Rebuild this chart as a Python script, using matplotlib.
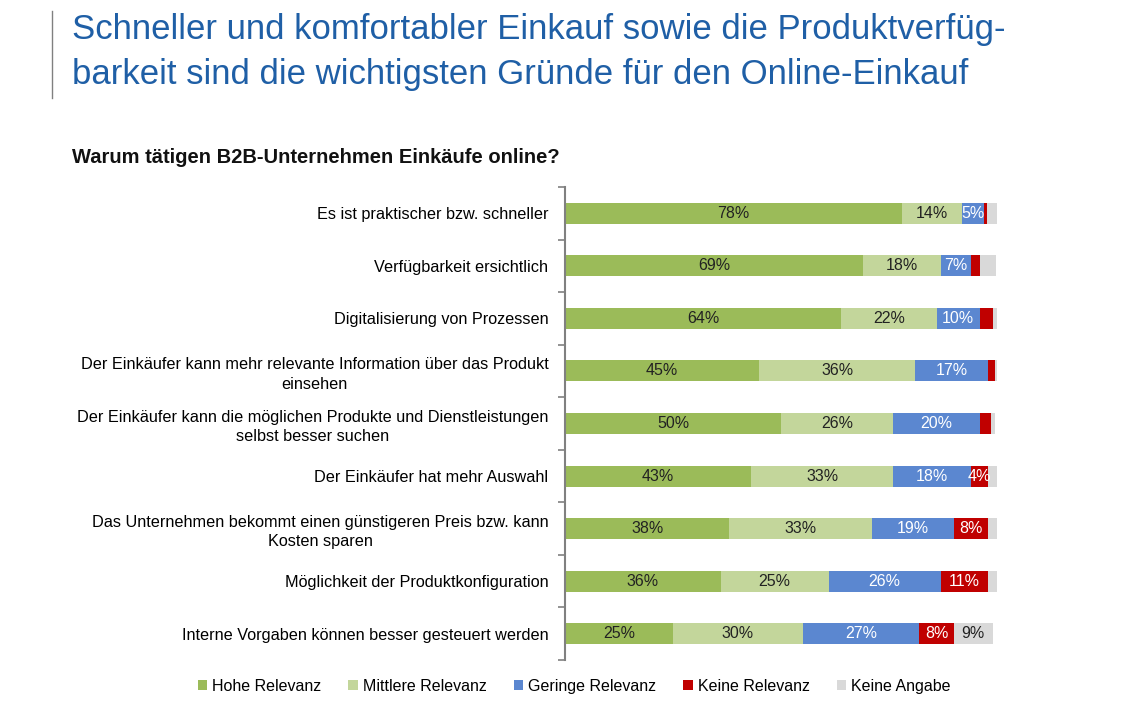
import matplotlib.pyplot as plt
import numpy as np
from matplotlib import font_manager

plt.rcParams['font.family'] = ['Liberation Sans', 'DejaVu Sans']

# Data (percent)
categories = [
    "Es ist praktischer bzw. schneller",
    "Verfügbarkeit ersichtlich",
    "Digitalisierung von Prozessen",
    "Der Einkäufer kann mehr relevante Information über das Produkt\neinsehen",
    "Der Einkäufer kann die möglichen Produkte und Dienstleistungen\nselbst besser suchen",
    "Der Einkäufer hat mehr Auswahl",
    "Das Unternehmen bekommt einen günstigeren Preis bzw. kann\nKosten sparen",
    "Möglichkeit der Produktkonfiguration",
    "Interne Vorgaben können besser gesteuert werden",
]
hohe = [78, 69, 64, 45, 50, 43, 38, 36, 25]
mittlere = [14, 18, 22, 36, 26, 33, 33, 25, 30]
geringe = [5, 7, 10, 17, 20, 18, 19, 26, 27]
keine = [0.7, 2, 3, 1.5, 2.5, 4, 8, 11, 8]
angabe = [2.3, 3.8, 1, 0.5, 1, 2, 2, 2, 9]

series_names = ["Hohe Relevanz", "Mittlere Relevanz", "Geringe Relevanz", "Keine Relevanz", "Keine Angabe"]
colors = ["#9BBB59", "#C3D69B", "#5B87D0", "#C00000", "#D9D9D9"]
label_colors = ["#222222", "#222222", "white", "white", "#222222"]

# check for a narrow font for the headline
names = {f.name for f in font_manager.fontManager.ttflist}
title_font = 'Liberation Sans Narrow' if 'Liberation Sans Narrow' in names else 'Liberation Sans'
title_size = 27 if title_font == 'Liberation Sans Narrow' else 25

fig = plt.figure(figsize=(11.3, 7.08), dpi=100)
ax = fig.add_axes([0.5, 0.0678, 0.3823, 0.668])

y = np.arange(len(categories))
left = np.zeros(len(categories))
for vals, name, col, lc in zip([hohe, mittlere, geringe, keine, angabe], series_names, colors, label_colors):
    vals = np.array(vals, dtype=float)
    ax.barh(y, vals, left=left, height=0.4, color=col, label=name)
    for yi, v, l in zip(y, vals, left):
        if v >= 4:
            ax.text(l + v / 2, yi, f"{v:.0f}%", ha='center', va='center', fontsize=11.5, color=lc)
    left += vals

ax.set_xlim(0, 100)
ax.set_ylim(len(categories) - 0.5, -0.5)
ax.set_yticks(y)
ax.set_yticklabels(categories, fontsize=11.7)
ax.tick_params(axis='y', length=0, pad=12)
ax.set_yticks(np.arange(-0.5, len(categories)), minor=True)
ax.tick_params(axis='y', which='minor', length=5, color='#808080', width=1.2)
ax.set_xticks([])
for s in ['top', 'right', 'bottom']:
    ax.spines[s].set_visible(False)
ax.spines['left'].set_color('#808080')
ax.spines['left'].set_linewidth(1.5)
for t in ax.get_yticklabels():
    t.set_multialignment('center')
    t.set_linespacing(1.35)

# headline
fig.text(0.064, 0.958, "Schneller und komfortabler Einkauf sowie die Produktverfüg-", fontsize=title_size,
         color='#1F5FA6', family=title_font, va='center')
fig.text(0.064, 0.895, "barkeit sind die wichtigsten Gründe für den Online-Einkauf", fontsize=title_size,
         color='#1F5FA6', family=title_font, va='center')
fig.add_artist(plt.Line2D([0.046, 0.046], [0.862, 0.985], color='#808080', linewidth=1))

fig.text(0.064, 0.778, "Warum tätigen B2B-Unternehmen Einkäufe online?", fontsize=14.5,
         fontweight='bold', color='#111111', va='center')

fig.legend(loc='center', bbox_to_anchor=(0.508, 0.031), ncol=5, frameon=False, fontsize=11.5,
           handlelength=0.6, handleheight=0.6, handletextpad=0.3, columnspacing=1.7)

fig.savefig('out.png', dpi=100)
